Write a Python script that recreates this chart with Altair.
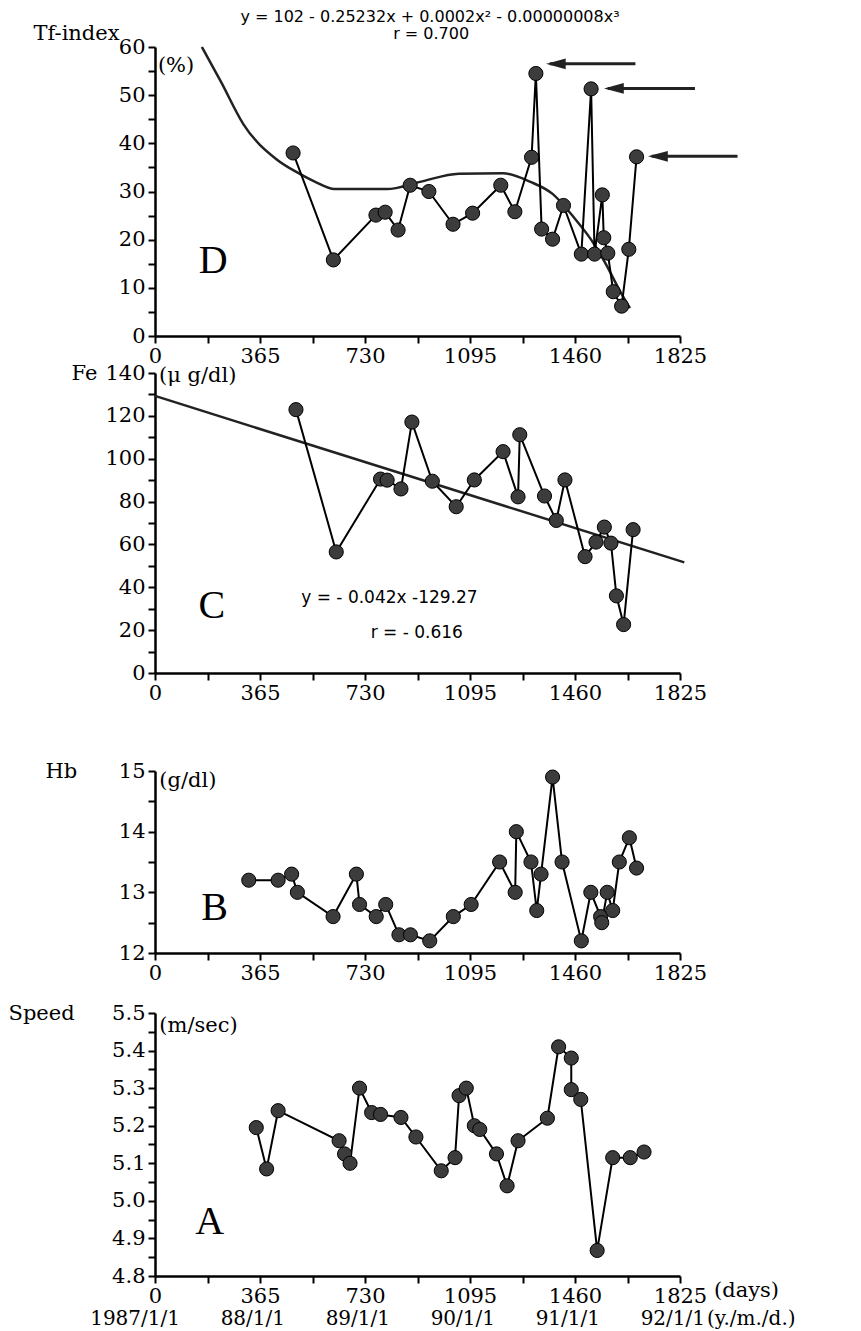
import altair as alt
import pandas as pd

SERIF = "DejaVu Serif"
SANS = "DejaVu Sans"

# ---------------- data ----------------
# Panel D : Tf-index (%)
tf_day = [480, 620, 768, 800, 845, 887, 952, 1036, 1104, 1202, 1251, 1309, 1324, 1344,
          1382, 1420, 1482, 1516, 1528, 1555, 1560, 1574, 1593, 1622, 1647, 1674]
tf_val = [38.0, 15.8, 25.1, 25.7, 22.0, 31.3, 30.0, 23.2, 25.5, 31.3, 25.8, 37.1, 54.5, 22.2,
          20.1, 27.1, 17.0, 51.3, 17.0, 29.3, 20.4, 17.2, 9.2, 6.2, 18.0, 37.2]
# fitted cubic curve as drawn
fit_day = [163, 230, 307, 422, 499, 557, 624, 806, 921, 1056, 1209, 1305, 1382, 1459,
           1516, 1574, 1612, 1651]
fit_val = [60.0, 52.7, 44.0, 36.7, 33.8, 32.0, 30.5, 30.5, 32.0, 33.7, 33.8, 32.0, 29.5, 24.4,
           20.0, 14.2, 9.8, 5.8]
# arrows
arrow_head = [1372, 1574, 1727]
arrow_tail = [1670, 1877, 2025]
arrow_val = [56.5, 51.4, 37.3]

# Panel C : Fe (ug/dl)
fe_day = [490, 630, 784, 807, 855, 893, 964, 1047, 1110, 1210, 1262, 1268, 1354, 1395,
          1425, 1495, 1533, 1562, 1585, 1604, 1629, 1662]
fe_val = [122.9, 56.5, 90.5, 90.0, 85.9, 117.1, 89.5, 77.6, 90.1, 103.3, 82.2, 111.2, 82.6, 71.2,
          90.1, 54.3, 61.1, 68.1, 60.6, 36.0, 22.6, 66.9]
reg_day = [0, 1840]
reg_val = [129.3, 51.6]

# Panel B : Hb (g/dl)
hb_day = [326, 428, 475, 495, 619, 700, 711, 769, 802, 848, 888, 955, 1037, 1099, 1198, 1252,
          1256, 1307, 1327, 1342, 1382, 1415, 1482, 1515, 1549, 1553, 1572, 1591, 1614, 1649, 1674]
hb_val = [13.2, 13.2, 13.3, 13.0, 12.6, 13.3, 12.8, 12.6, 12.8, 12.3, 12.3, 12.2, 12.6, 12.8, 13.5, 13.0,
          14.0, 13.5, 12.7, 13.3, 14.9, 13.5, 12.2, 13.0, 12.6, 12.5, 13.0, 12.7, 13.5, 13.9, 13.4]

# Panel A : Speed (m/sec)
sp_day = [352, 388, 428, 640, 659, 678, 711, 753, 784, 855, 907, 995, 1043, 1057, 1082,
          1110, 1129, 1187, 1224, 1262, 1364, 1403, 1447, 1447, 1480, 1537, 1591, 1652, 1700]
sp_val = [5.195, 5.085, 5.24, 5.16, 5.125, 5.10, 5.30, 5.235, 5.23, 5.222, 5.17, 5.08, 5.115,
          5.28, 5.30, 5.20, 5.19, 5.125, 5.04, 5.16, 5.22, 5.41, 5.38, 5.296, 5.27, 4.868,
          5.115, 5.115, 5.13]

x_ticks = [0, 365, 730, 1095, 1460, 1825]
date_labels = ["1987/1/1", "88/1/1", "89/1/1", "90/1/1", "91/1/1", "92/1/1"]

eq_lines = ["y = 102 - 0.25232x + 0.0002x² - 0.00000008x³", "r = 0.700"]
fe_lines = ["y = - 0.042x -129.27", "r = - 0.616"]

W = 525
LBL = 21

def x_enc(field="day"):
    return alt.X(f"{field}:Q",
                 scale=alt.Scale(domain=[0, 1825], nice=False, zero=False),
                 axis=alt.Axis(values=[i * 182.5 for i in range(11)],
                               labelExpr="datum.value % 365 === 0 ? format(datum.value, 'd') : ''",
                               title=None, labelOverlap=False, labelFlush=False,
                               labelPadding=2))

def y_enc(domain, values, label_expr, title, tx, ty):
    return alt.Y("val:Q",
                 scale=alt.Scale(domain=domain, nice=False, zero=False),
                 axis=alt.Axis(values=values, labelExpr=label_expr, title=title,
                               titleAngle=0, titleAlign="left", titleBaseline="middle",
                               titleX=tx, titleY=ty, titleFont=SERIF, titleFontSize=LBL,
                               titleFontWeight="normal", titleColor="black",
                               labelOverlap=False, labelFlush=False, labelPadding=3))

def series_layers(days, vals, Y):
    df = pd.DataFrame({"day": days, "val": vals, "i": range(len(days))})
    line = alt.Chart(df).mark_line(color="black", strokeWidth=2).encode(
        x=x_enc(), y=Y, order="i:Q")
    pts = alt.Chart(df).mark_point(filled=True, fill="#3c3c3c", stroke="black",
                                   strokeWidth=1, size=200, opacity=1).encode(x=x_enc(), y=Y)
    return line, pts

def note(text, day, val, Y, size=LBL, font=SERIF, align="left", dx=0):
    df = pd.DataFrame({"day": [day], "val": [val], "t": [text]})
    return alt.Chart(df).mark_text(font=font, fontSize=size, align=align, baseline="middle",
                                   color="black", dx=dx).encode(
        x=x_enc(), y=Y, text="t:N")

def px_note(text, day, ypx, size=LBL, font=SERIF, align="center", dx=0):
    df = pd.DataFrame({"day": [day], "t": [text]})
    return alt.Chart(df).mark_text(font=font, fontSize=size, align=align, baseline="middle",
                                   color="black", dx=dx).encode(
        x=x_enc(), y=alt.value(ypx), text="t:N")

LETTER = dict(size=40, font="Liberation Serif", align="center")

# ---------- Panel D ----------
YD = y_enc([0, 60], [i * 5 for i in range(13)],
           "datum.value % 10 === 0 ? format(datum.value, 'd') : ''", "Tf-index", -122, -14)
lD, pD = series_layers(tf_day, tf_val, YD)
fit_df = pd.DataFrame({"day": fit_day, "val": fit_val})
fitD = alt.Chart(fit_df).mark_line(color="#222", strokeWidth=2.5, interpolate="monotone").encode(
    x=x_enc(), y=YD)
arr_df = pd.DataFrame({"day": arrow_head, "tail": arrow_tail, "val": arrow_val})
shaft = alt.Chart(arr_df).mark_rule(color="#222", strokeWidth=3).encode(
    x=x_enc(), x2="tail:Q", y=YD)
head = alt.Chart(arr_df).mark_point(shape="M0,0L2,-0.55L2,0.55Z", filled=True, fill="#222",
                                    stroke="#222", size=225, opacity=1).encode(x=x_enc(), y=YD)
panelD = alt.layer(
    fitD, lD, pD, shaft, head,
    note("D", 202, 15.6, YD, **LETTER), note("(%)", 10, 56, YD),
    px_note(eq_lines[0], 956, -30, size=16, font=SANS),
    px_note(eq_lines[1], 960, -13, size=16, font=SANS),
).properties(width=W, height=289)

# ---------- Panel C ----------
YC = y_enc([0, 140], [i * 10 for i in range(15)],
           "datum.value % 20 === 0 ? format(datum.value, 'd') : ''", "Fe", -84, 0)
lC, pC = series_layers(fe_day, fe_val, YC)
reg_df = pd.DataFrame({"day": reg_day, "val": reg_val})
regC = alt.Chart(reg_df).mark_line(color="#222", strokeWidth=2.5).encode(x=x_enc(), y=YC)
panelC = alt.layer(
    regC, lC, pC,
    note("C", 198, 31.5, YC, **LETTER), note("(μ g/dl)", 14, 138.5, YC),
    note(fe_lines[0], 815, 35, YC, size=17, font=SANS, align="center"),
    note(fe_lines[1], 910, 18.5, YC, size=17, font=SANS, align="center"),
).properties(width=W, height=300)

# ---------- Panel B ----------
YB = y_enc([12, 15], [12 + i * 0.5 for i in range(7)],
           "datum.value % 1 === 0 ? format(datum.value, 'd') : ''", "Hb", -110, 0)
lB, pB = series_layers(hb_day, hb_val, YB)
panelB = alt.layer(
    lB, pB,
    note("B", 207, 12.74, YB, **LETTER), note("(g/dl)", 15, 14.84, YB),
).properties(width=W, height=182)

# ---------- Panel A ----------
YA = y_enc([4.8, 5.5], [round(4.8 + i * 0.05, 2) for i in range(15)],
           "abs(datum.value * 10 - round(datum.value * 10)) < 0.001 ? format(datum.value, '.1f') : ''",
           "Speed", -147, 0)
lA, pA = series_layers(sp_day, sp_val, YA)
date_df = pd.DataFrame({"day": x_ticks, "t": date_labels})
dates = alt.Chart(date_df).mark_text(font=SERIF, fontSize=20, color="black", align="right",
                                     dx=25, baseline="middle").encode(
    x=x_enc(), y=alt.value(306), text="t:N")
panelA = alt.layer(
    lA, pA, dates,
    px_note("(days)", 1825, 278, align="left", dx=34),
    px_note("(y./m./d.)", 1825, 306, size=20, align="left", dx=27),
    note("A", 190, 4.945, YA, **LETTER), note("(m/sec)", 15, 5.465, YA),
).properties(width=W, height=263)

inner2 = alt.vconcat(panelB, panelA, spacing=60, bounds="flush")
inner1 = alt.vconcat(panelC, inner2, spacing=98, bounds="flush")
chart = alt.vconcat(panelD, inner1, spacing=37, bounds="flush").properties(
    padding={"top": 1, "left": 0, "right": 0, "bottom": 0}, background="white"
).configure_view(strokeWidth=0).configure_axis(
    domainColor="black", domainWidth=2.5, tickColor="black", tickWidth=2, tickSize=7,
    labelFont=SERIF, labelFontSize=LBL, labelColor="black", grid=False
)

chart.save("out.html", embed_options={"renderer": "svg", "actions": False})
